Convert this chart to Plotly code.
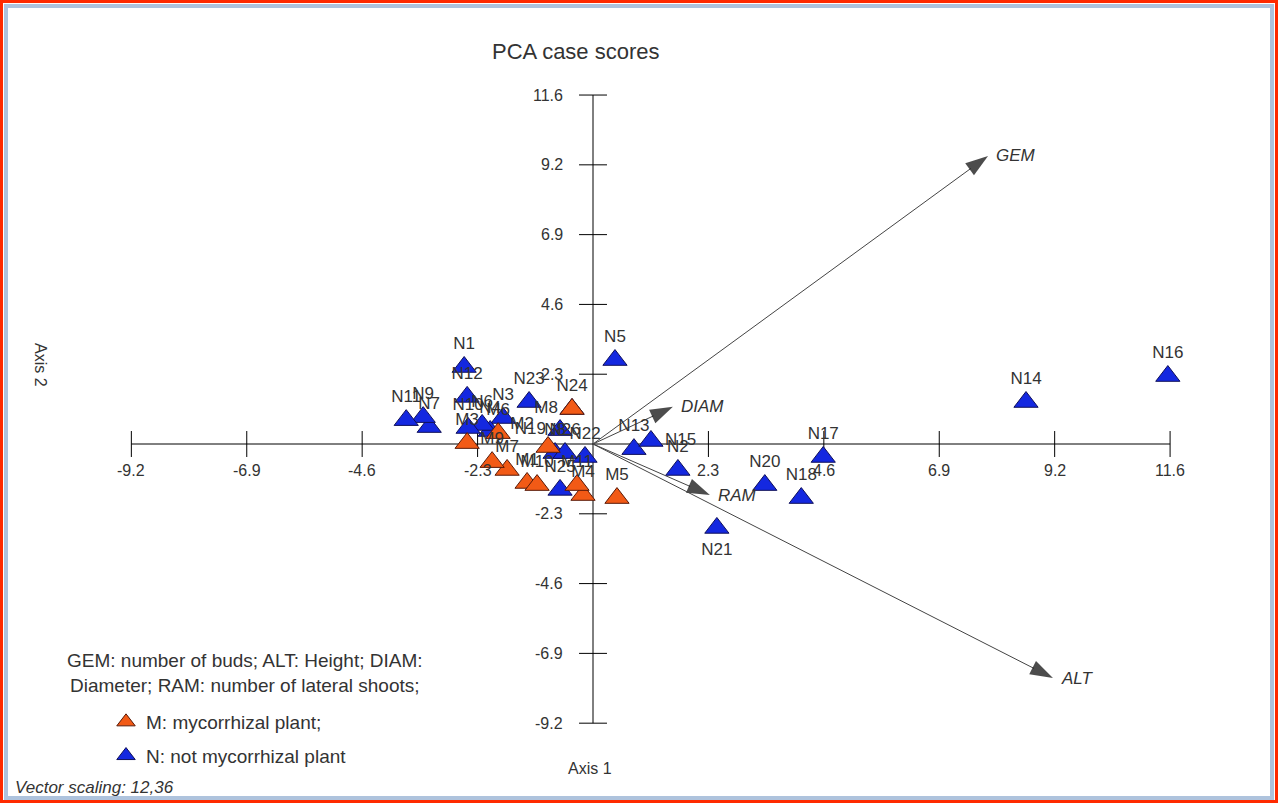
import plotly.graph_objects as go

# ---------------- data ----------------
# not mycorrhizal plants (blue)
n_labels = ["N1", "N2", "N3", "N4", "N5", "N6", "N7", "N8", "N9", "N10", "N11", "N12", "N13",
            "N14", "N15", "N16", "N17", "N18", "N19", "N20", "N21", "N22", "N23", "N24", "N25", "N26"]
n_x = [-2.58, 1.70, -1.80, -2.06, 0.44, -2.22, -3.28, -0.76, -3.40, -2.50, -3.74, -2.52, 0.82,
       8.67, 1.16, 11.51, 4.61, 4.17, -0.66, 3.44, 2.48, -0.16, -1.28, -0.42, -0.66, -0.56]
n_y = [2.55, -0.86, 0.86, 0.43, 2.78, 0.63, 0.56, -0.30, 0.89, 0.53, 0.79, 1.56, -0.17,
       1.39, 0.10, 2.25, -0.43, -1.79, 0.46, -1.36, -2.78, -0.43, 1.39, 1.16, -1.52, -0.30]
n_textpos = ["top center"] * len(n_labels)
n_textpos[n_labels.index("N15")] = "middle right"
n_textpos[n_labels.index("N19")] = "middle left"
n_textpos[n_labels.index("N21")] = "bottom center"

# mycorrhizal plants (orange)
m_labels = ["M1", "M2", "M3", "M4", "M5", "M6", "M7", "M8", "M9", "M10", "M11"]
m_x = [-1.32, -0.90, -2.52, -0.20, 0.48, -1.90, -1.72, -0.42, -2.02, -1.12, -0.32]
m_y = [-1.29, -0.10, 0.03, -1.69, -1.79, 0.36, -0.86, 1.16, -0.60, -1.36, -1.36]
m_textpos = ["top center"] * len(m_labels)
m_textpos[m_labels.index("M2")] = "top left"
m_textpos[m_labels.index("M8")] = "middle left"

# variable vectors (scaled)
vec_names = ["GEM", "DIAM", "RAM", "ALT"]
vec_x = [7.91, 1.60, 2.34, 9.21]
vec_y = [9.54, 1.23, -1.69, -7.75]

# axis ticks
tick_step = 2.311
tick_k = [-4, -3, -2, -1, 1, 2, 3, 4, 5]
tick_text = ["-9.2", "-6.9", "-4.6", "-2.3", "2.3", "4.6", "6.9", "9.2", "11.6"]

# ---------------- styles ----------------
W, H = 1278, 803
FONT = "Liberation Sans, Arial, sans-serif"
BLUE = "#1428e0"
ORANGE = "#f25a16"
TXT = "#333333"
X_RANGE = [-11.874, 13.716]
Y_RANGE = [-11.887, 14.702]
MSIZE = 21

tick_vals = [k * tick_step for k in tick_k]
amin, amax = min(tick_vals), max(tick_vals)

fig = go.Figure()

# axis lines through origin
fig.add_trace(go.Scatter(x=[amin, amax, None, 0, 0], y=[0, 0, None, amin, amax],
                         mode="lines", line=dict(color="black", width=1),
                         hoverinfo="skip", showlegend=False))
# tick marks (crossing the axes)
tx, ty = [], []
for v in tick_vals:
    tx += [v, v, None]
    ty += [-0.43, 0.43, None]
    tx += [-0.28, 0.28, None]
    ty += [v, v, None]
fig.add_trace(go.Scatter(x=tx, y=ty, mode="lines", line=dict(color="black", width=1),
                         hoverinfo="skip", showlegend=False))

# vectors with arrow heads
for nm, vx, vy in zip(vec_names, vec_x, vec_y):
    fig.add_trace(go.Scatter(x=[0, vx], y=[0, vy], mode="lines+markers",
                             line=dict(color="#444444", width=1),
                             marker=dict(symbol="arrow", size=[0, 24], angleref="previous",
                                         color="#000000", line=dict(width=0, color="#000000")),
                             hoverinfo="skip", showlegend=False))

# points
fig.add_trace(go.Scatter(x=n_x, y=n_y, mode="markers+text", text=n_labels,
                         textposition=n_textpos,
                         textfont=dict(family=FONT, size=17, color=TXT),
                         marker=dict(symbol="triangle-up", size=MSIZE, color=BLUE,
                                     line=dict(color="#10105a", width=1)),
                         showlegend=False))
fig.add_trace(go.Scatter(x=m_x, y=m_y, mode="markers+text", text=m_labels,
                         textposition=m_textpos,
                         textfont=dict(family=FONT, size=17, color=TXT),
                         marker=dict(symbol="triangle-up", size=MSIZE, color=ORANGE,
                                     line=dict(color="#5a1a08", width=1)),
                         showlegend=False))

# legend-only entries
fig.add_trace(go.Scatter(x=[None], y=[None], mode="markers", name="M: mycorrhizal plant;",
                         marker=dict(symbol="triangle-up", size=MSIZE, color=ORANGE,
                                     line=dict(color="#5a1a08", width=1)),
                         legendgroup="m"))
fig.add_trace(go.Scatter(x=[None], y=[None], mode="markers", name="N: not mycorrhizal plant",
                         marker=dict(symbol="triangle-up", size=MSIZE, color=BLUE,
                                     line=dict(color="#10105a", width=1)),
                         legendgroup="n"))

annotations = []
# tick labels
for v, t in zip(tick_vals, tick_text):
    annotations.append(dict(x=v, y=0, xref="x", yref="y", text=t, showarrow=False,
                            yshift=-26, xanchor="center", yanchor="middle",
                            font=dict(family=FONT, size=16, color=TXT)))
    annotations.append(dict(x=0, y=v, xref="x", yref="y", text=t, showarrow=False,
                            xshift=-28, xanchor="right", yanchor="middle",
                            font=dict(family=FONT, size=16, color=TXT)))
# vector labels
for nm, vx, vy in zip(vec_names, vec_x, vec_y):
    annotations.append(dict(x=vx, y=vy, xref="x", yref="y", text="<i>%s</i>" % nm,
                            showarrow=False, xanchor="left", yanchor="middle", xshift=6,
                            font=dict(family=FONT, size=17, color=TXT)))

# titles and notes
annotations += [
    dict(x=576 / W, y=1 - 51 / H, xref="paper", yref="paper", text="PCA case scores",
         showarrow=False, xanchor="center", yanchor="middle",
         font=dict(family=FONT, size=22, color=TXT)),
    dict(x=590 / W, y=1 - 768 / H, xref="paper", yref="paper", text="Axis 1",
         showarrow=False, xanchor="center", yanchor="middle",
         font=dict(family=FONT, size=16, color=TXT)),
    dict(x=41 / W, y=1 - 365 / H, xref="paper", yref="paper", text="Axis 2", textangle=90,
         showarrow=False, xanchor="center", yanchor="middle",
         font=dict(family=FONT, size=16, color=TXT)),
    dict(x=245 / W, y=1 - 673 / H, xref="paper", yref="paper",
         text="GEM: number of buds; ALT: Height; DIAM:<br>Diameter; RAM: number of lateral shoots;",
         showarrow=False, xanchor="center", yanchor="middle", align="center",
         font=dict(family=FONT, size=19, color=TXT)),
    dict(x=13 / W, y=1 - 787 / H, xref="paper", yref="paper",
         text="<i>Vector scaling: 12,36</i>",
         showarrow=False, xanchor="left", yanchor="middle",
         font=dict(family=FONT, size=17, color=TXT)),
]

shapes = [
    dict(type="rect", xref="paper", yref="paper", x0=1.5 / W, x1=1 - 1.5 / W,
         y0=1.5 / H, y1=1 - 1.5 / H, line=dict(color="#ff2a00", width=3), layer="above"),
    dict(type="rect", xref="paper", yref="paper", x0=6 / W, x1=1 - 6 / W,
         y0=5 / H, y1=1 - 6 / H, line=dict(color="#aec3dd", width=4), layer="above"),
]

fig.update_layout(
    width=W, height=H,
    margin=dict(l=0, r=0, t=0, b=0),
    paper_bgcolor="white", plot_bgcolor="white",
    xaxis=dict(range=X_RANGE, visible=False, fixedrange=True),
    yaxis=dict(range=Y_RANGE, visible=False, fixedrange=True),
    annotations=annotations,
    shapes=shapes,
    showlegend=True,
    legend=dict(x=106 / W, y=1 - 703 / H, xanchor="left", yanchor="top",
                bgcolor="rgba(0,0,0,0)", traceorder="grouped", tracegroupgap=6,
                font=dict(family=FONT, size=19, color=TXT), itemsizing="trace"),
    font=dict(family=FONT, color=TXT),
)

fig.write_html("out.html", config={"displayModeBar": False},
               post_script="document.body.style.margin='0';")
